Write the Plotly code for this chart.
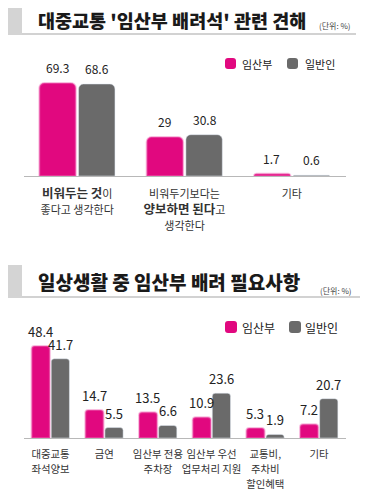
import plotly.graph_objects as go

# ---------------- data ----------------
cats1 = ["비워두는 것이 좋다", "양보하면 된다", "기타"]
# each tick label: list of lines, each line a list of (text, bold) parts
tick_parts1 = [
    [[("비워두는 것", True), ("이", False)], [("좋다고 생각한다", False)]],
    [[("비워두기보다는", False)], [("양보하면 된다", True), ("고", False)], [("생각한다", False)]],
    [[("기타", False)]],
]
pregnant1 = [69.3, 29, 1.7]
general1 = [68.6, 30.8, 0.6]

cats2 = ["대중교통 좌석양보", "금연", "임산부 전용 주차장", "임산부 우선 업무처리 지원",
         "교통비, 주차비 할인혜택", "기타2"]
tick_lines2 = [["대중교통", "좌석양보"], ["금연"], ["임산부 전용", "주차장"], ["임산부 우선", "업무처리 지원"],
               ["교통비,", "주차비", "할인혜택"], ["기타"]]
pregnant2 = [48.4, 14.7, 13.5, 10.9, 5.3, 7.2]
general2 = [41.7, 5.5, 6.6, 23.6, 1.9, 20.7]

series_names = ["임산부", "일반인"]
title1 = "대중교통 '임산부 배려석' 관련 견해"
title2 = "일상생활 중 임산부 배려 필요사항"
unit_text = "(단위: %)"

# ---------------- style ----------------
OFF = 8  # default page body margin
W, H = 370 - OFF, 491 - OFF
PINK = "#E1087F"
GLOW = "rgba(240,110,185,0.45)"
GRAY = "#6A6A6A"
FONT = "Noto Sans CJK KR"


def px(x):
    return (x - OFF) / W


def py(y):
    return 1 - (y - OFF) / H


def fmt_parts(lines, normal=11, bold=12.5):
    out = []
    for line in lines:
        s = ""
        for t, b in line:
            if b:
                s += f"<span style='font-size:{bold}px'><b>{t}</b></span>"
            else:
                s += f"<span style='font-size:{normal}px'>{t}</span>"
        out.append(s)
    return "<br>".join(out)


def fmt_lines(lines, size=10.4):
    return "<br>".join(f"<span style='font-size:{size}px'>{t}</span>" for t in lines)


ticks1 = [fmt_parts(p) for p in tick_parts1]
ticks2 = [fmt_lines(l) for l in tick_lines2]

fig = go.Figure()

fig.add_trace(go.Bar(x=cats1, y=pregnant1, name=series_names[0],
                     marker=dict(color=PINK, cornerradius=5, line=dict(color=GLOW, width=2)),
                     xaxis="x", yaxis="y", showlegend=False))
fig.add_trace(go.Bar(x=cats1, y=general1, name=series_names[1], marker=dict(color=GRAY, cornerradius=5),
                     xaxis="x", yaxis="y", showlegend=False))
fig.add_trace(go.Bar(x=cats2, y=pregnant2, name=series_names[0],
                     marker=dict(color=PINK, cornerradius=3, line=dict(color=GLOW, width=2)),
                     xaxis="x2", yaxis="y2", showlegend=False))
fig.add_trace(go.Bar(x=cats2, y=general2, name=series_names[1], marker=dict(color=GRAY, cornerradius=3),
                     xaxis="x2", yaxis="y2", showlegend=False))

annotations = []
# value labels chart 1
for c, a, b in zip(cats1, pregnant1, general1):
    annotations.append(dict(x=c, y=a, xref="x", yref="y", text=f"{a:g}", showarrow=False,
                            xshift=-20, yanchor="bottom", yshift=5, font=dict(size=12, color="#222", family=FONT)))
    annotations.append(dict(x=c, y=b, xref="x", yref="y", text=f"{b:g}", showarrow=False,
                            xshift=20, yanchor="bottom", yshift=5, font=dict(size=12, color="#222", family=FONT)))
# value labels chart 2
for c, a, b in zip(cats2, pregnant2, general2):
    annotations.append(dict(x=c, y=a, xref="x2", yref="y2", text=f"{a:g}", showarrow=False,
                            xshift=-10, yanchor="bottom", yshift=3, font=dict(size=13, color="#222", family=FONT)))
    annotations.append(dict(x=c, y=b, xref="x2", yref="y2", text=f"{b:g}", showarrow=False,
                            xshift=10, yanchor="bottom", yshift=3, font=dict(size=13, color="#222", family=FONT)))

# titles
annotations.append(dict(x=px(36), y=py(20.5), xref="paper", yref="paper", text=title1, showarrow=False,
                        xanchor="left", yanchor="middle", font=dict(size=18.5, color="#1a1a1a", family=FONT, weight=900)))
annotations.append(dict(x=px(36), y=py(281), xref="paper", yref="paper", text=title2, showarrow=False,
                        xanchor="left", yanchor="middle", font=dict(size=19, color="#1a1a1a", family=FONT, weight=900)))
annotations.append(dict(x=px(317), y=py(25), xref="paper", yref="paper", text=unit_text, showarrow=False,
                        xanchor="left", yanchor="middle", font=dict(size=8, color="#444", family=FONT)))
annotations.append(dict(x=px(318), y=py(290), xref="paper", yref="paper", text=unit_text, showarrow=False,
                        xanchor="left", yanchor="middle", font=dict(size=8, color="#444", family=FONT)))

# legends (text)
for ly, fs in [(64, 11), (327, 12)]:
    annotations.append(dict(x=px(240), y=py(ly), xref="paper", yref="paper", text=series_names[0], showarrow=False,
                            xanchor="left", yanchor="middle", font=dict(size=fs, color="#222", family=FONT)))
    annotations.append(dict(x=px(303), y=py(ly), xref="paper", yref="paper", text=series_names[1], showarrow=False,
                            xanchor="left", yanchor="middle", font=dict(size=fs, color="#222", family=FONT)))


def rounded_rect(x0, y0, x1, y1, r):
    X0, X1 = px(x0), px(x1)
    Y0, Y1 = py(y0), py(y1)
    rx, ry = r / W, r / H
    return (f"M {X0+rx},{Y0} L {X1-rx},{Y0} Q {X1},{Y0} {X1},{Y0-ry} "
            f"L {X1},{Y1+ry} Q {X1},{Y1} {X1-rx},{Y1} L {X0+rx},{Y1} Q {X0},{Y1} {X0},{Y1+ry} "
            f"L {X0},{Y0-ry} Q {X0},{Y0} {X0+rx},{Y0} Z")


shapes = [
    dict(type="rect", xref="paper", yref="paper", x0=px(8), x1=px(22), y0=py(35), y1=py(2),
         fillcolor="#d4d4d4", line=dict(width=0), layer="below"),
    dict(type="line", xref="paper", yref="paper", x0=px(22), x1=px(356), y0=py(34), y1=py(34),
         line=dict(color="#d2d2d2", width=2)),
    dict(type="rect", xref="paper", yref="paper", x0=px(8), x1=px(22), y0=py(298), y1=py(265),
         fillcolor="#d4d4d4", line=dict(width=0), layer="below"),
    dict(type="line", xref="paper", yref="paper", x0=px(22), x1=px(360), y0=py(297), y1=py(297),
         line=dict(color="#d2d2d2", width=2)),
]
for (x0, y0, x1, y1) in [(225, 58, 236, 69), (225, 321, 237, 333)]:
    shapes.append(dict(type="path", xref="paper", yref="paper", path=rounded_rect(x0, y0, x1, y1, 3),
                       fillcolor=PINK, line=dict(width=0)))
for (x0, y0, x1, y1) in [(287, 58, 298, 69), (289, 321, 301, 333)]:
    shapes.append(dict(type="path", xref="paper", yref="paper", path=rounded_rect(x0, y0, x1, y1, 3),
                       fillcolor=GRAY, line=dict(width=0)))

fig.update_layout(
    width=W, height=H, autosize=False,
    margin=dict(l=0, r=0, t=0, b=0, pad=0),
    paper_bgcolor="white", plot_bgcolor="white",
    barmode="group", bargap=0.27, bargroupgap=0.07,
    font=dict(family=FONT, color="#333"),
    xaxis=dict(domain=[px(23.5), px(345.5)], anchor="y", tickmode="array", tickvals=cats1, ticktext=ticks1,
               showline=True, linecolor="#b8b8b8", linewidth=1, ticks="", showgrid=False, zeroline=False,
               tickangle=0, automargin=False, ticklabelstandoff=7,
               tickfont=dict(size=12, color="#333", family=FONT)),
    yaxis=dict(domain=[py(176), py(68)], range=[0, 80.5], visible=False, fixedrange=True, automargin=False),
    xaxis2=dict(domain=[px(23.7), px(345.8)], anchor="y2", tickmode="array", tickvals=cats2, ticktext=ticks2,
                showline=True, linecolor="#b8b8b8", linewidth=1, ticks="", showgrid=False, zeroline=False,
                tickangle=0, automargin=False, ticklabelstandoff=5,
                tickfont=dict(size=11.5, color="#333", family=FONT)),
    yaxis2=dict(domain=[py(438), py(324)], range=[0, 60], visible=False, fixedrange=True, automargin=False),
    annotations=annotations,
    shapes=shapes,
    showlegend=False,
)

fig.write_html("out.html")
